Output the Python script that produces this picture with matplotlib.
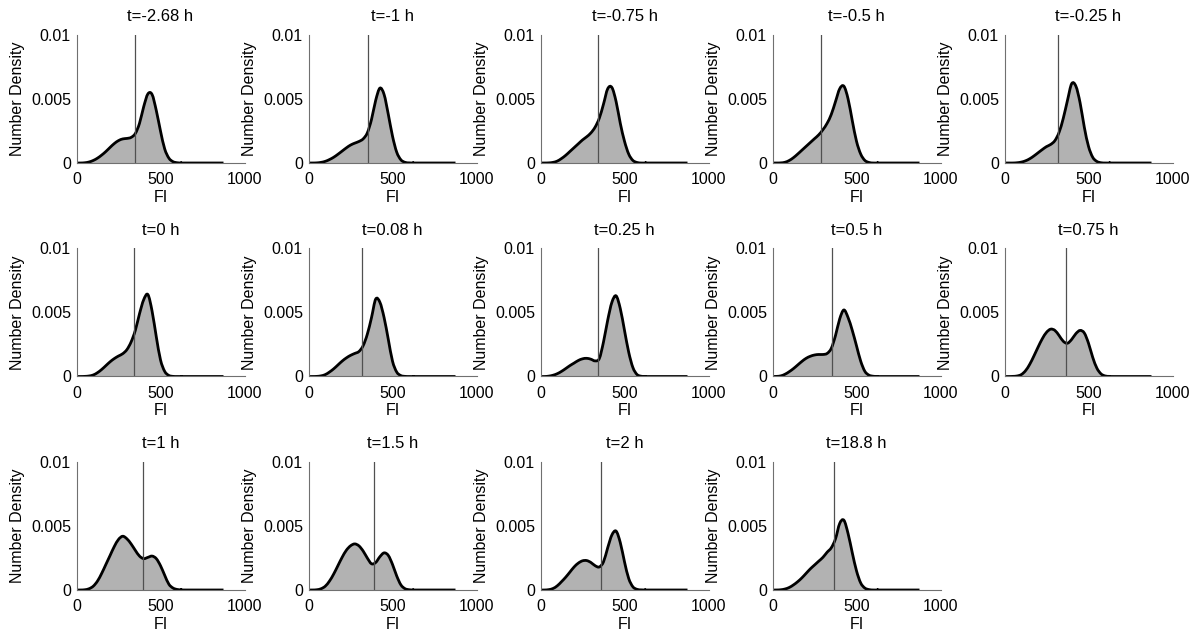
import numpy as np
from matplotlib import pyplot as plt
from matplotlib.path import Path
from matplotlib.patches import PathPatch

plt.rcParams['font.family'] = ['Liberation Sans', 'DejaVu Sans']

# time points of each panel
titles = ["t=-2.68 h", "t=-1 h", "t=-0.75 h", "t=-0.5 h", "t=-0.25 h",
          "t=0 h", "t=0.08 h", "t=0.25 h", "t=0.5 h", "t=0.75 h",
          "t=1 h", "t=1.5 h", "t=2 h", "t=18.8 h"]

# FI grid where the densities were read (every 25 units), density is 0 beyond
fi = np.arange(0, 675, 25)
fi_end = 875

# number density, in units of 1e-3
d_m268 = [0, 0, 0.02, 0.08, 0.2, 0.38, 0.62, 0.9, 1.22, 1.52, 1.75, 1.88, 1.92, 2.0,
          2.3, 3.1, 4.4, 5.4, 5.35, 4.1, 2.5, 1.1, 0.38, 0.1, 0.02, 0, 0]
d_m1 = [0, 0, 0.01, 0.05, 0.13, 0.27, 0.45, 0.68, 0.93, 1.18, 1.4, 1.55, 1.68, 1.88,
        2.35, 3.4, 4.9, 5.85, 5.35, 3.8, 2.1, 0.85, 0.25, 0.05, 0.01, 0, 0]
d_m075 = [0, 0, 0.01, 0.05, 0.15, 0.35, 0.6, 0.9, 1.2, 1.5, 1.8, 2.05, 2.35, 2.8,
          3.5, 4.6, 5.8, 5.9, 4.8, 3.1, 1.7, 0.7, 0.2, 0.04, 0, 0, 0]
d_m05 = [0, 0, 0.01, 0.06, 0.2, 0.42, 0.7, 1.0, 1.3, 1.6, 1.9, 2.2, 2.6, 3.1,
         3.8, 4.8, 5.8, 6.0, 5.0, 3.3, 1.7, 0.7, 0.2, 0.04, 0, 0, 0]
d_m025 = [0, 0, 0, 0.02, 0.07, 0.17, 0.33, 0.55, 0.8, 1.05, 1.28, 1.45, 1.75, 2.4,
          3.5, 4.9, 6.2, 6.0, 4.7, 2.8, 1.3, 0.45, 0.12, 0.02, 0, 0, 0]
d_0 = [0, 0, 0.01, 0.04, 0.12, 0.3, 0.55, 0.85, 1.15, 1.4, 1.6, 1.78, 2.1, 2.7,
       3.6, 4.9, 6.0, 6.4, 5.1, 3.1, 1.3, 0.4, 0.08, 0.01, 0, 0, 0]
d_008 = [0, 0, 0.01, 0.05, 0.15, 0.35, 0.6, 0.9, 1.2, 1.45, 1.65, 1.8, 1.95, 2.4,
         3.3, 4.6, 6.05, 5.8, 4.6, 2.9, 1.2, 0.35, 0.07, 0.01, 0, 0, 0]
d_025 = [0, 0, 0.03, 0.1, 0.22, 0.4, 0.62, 0.85, 1.05, 1.25, 1.38, 1.42, 1.35, 1.22,
         1.4, 2.7, 4.4, 5.8, 6.3, 5.3, 3.6, 1.9, 0.7, 0.15, 0.02, 0, 0]
d_05 = [0, 0.01, 0.05, 0.18, 0.38, 0.62, 0.9, 1.18, 1.42, 1.58, 1.68, 1.72, 1.72, 1.8,
        2.2, 3.2, 4.5, 5.2, 4.6, 3.6, 2.4, 1.2, 0.4, 0.1, 0.02, 0, 0]
d_075 = [0, 0, 0.01, 0.04, 0.15, 0.45, 0.95, 1.6, 2.3, 2.95, 3.45, 3.7, 3.6, 3.2,
         2.75, 2.6, 2.9, 3.35, 3.6, 3.4, 2.6, 1.5, 0.65, 0.2, 0.04, 0.01, 0]
d_1 = [0, 0, 0.02, 0.1, 0.3, 0.7, 1.3, 2.0, 2.7, 3.4, 3.95, 4.2, 4.0, 3.6,
       3.1, 2.65, 2.45, 2.55, 2.65, 2.45, 1.9, 1.15, 0.45, 0.15, 0.04, 0.01, 0]
d_15 = [0, 0, 0.02, 0.1, 0.3, 0.7, 1.25, 1.9, 2.55, 3.1, 3.45, 3.6, 3.45, 3.05,
        2.5, 2.05, 2.15, 2.6, 2.9, 2.7, 2.0, 1.1, 0.4, 0.1, 0.02, 0, 0]
d_2 = [0, 0, 0.03, 0.12, 0.33, 0.65, 1.0, 1.4, 1.8, 2.1, 2.28, 2.3, 2.15, 1.9,
       1.8, 2.2, 3.3, 4.3, 4.6, 3.7, 2.2, 0.9, 0.25, 0.05, 0.01, 0, 0]
d_188 = [0, 0, 0.02, 0.08, 0.2, 0.4, 0.65, 0.95, 1.3, 1.65, 1.95, 2.25, 2.55, 2.95,
         3.3, 4.0, 5.2, 5.45, 4.4, 2.9, 1.5, 0.55, 0.15, 0.03, 0, 0, 0]

densities = [d_m268, d_m1, d_m075, d_m05, d_m025, d_0, d_008, d_025, d_05,
             d_075, d_1, d_15, d_2, d_188]

# threshold FI (vertical line) in each panel
thresholds = [348, 353, 345, 288, 321, 341, 318, 341, 353, 368, 393, 387, 363, 369]


def smooth_path(x, y, close=False):
    # draw a smooth (catmull-rom style) curve through the read points
    pts = np.column_stack([x, y])
    n = len(pts)
    verts = [pts[0]]
    codes = [Path.MOVETO]
    for k in range(n - 1):
        p0 = pts[max(k - 1, 0)]
        p1 = pts[k]
        p2 = pts[k + 1]
        p3 = pts[min(k + 2, n - 1)]
        verts += [p1 + (p2 - p0) / 6.0, p2 - (p3 - p1) / 6.0, p2]
        codes += [Path.CURVE4] * 3
    if close:
        verts += [(x[-1], 0), (x[0], 0), (x[0], 0)]
        codes += [Path.LINETO, Path.LINETO, Path.CLOSEPOLY]
    return Path(verts, codes)


fig = plt.figure(figsize=(12, 6.36), dpi=100)
W, H = 1200.0, 636.0

for i in range(len(titles)):
    row, col = i // 5, i % 5
    left = 76.5 + 232 * col
    bottom = 163 + 213.5 * row
    ax = fig.add_axes([left / W, 1 - bottom / H, 168 / W, 128 / H])

    x = np.append(fi, fi_end)
    y = np.append(np.array(densities[i]) * 1e-3, 0)
    ax.add_patch(PathPatch(smooth_path(x, y, close=True), facecolor="#b2b2b2",
                           edgecolor="none"))
    ax.add_patch(PathPatch(smooth_path(x, y), facecolor="none", edgecolor="black",
                           linewidth=2.0, capstyle="butt", joinstyle="round"))
    ax.plot([thresholds[i], thresholds[i]], [0, 0.01], color="#505050", linewidth=0.9)

    ax.set_xlim(0, 1000)
    ax.set_ylim(0, 0.01)
    ax.set_xticks([0, 500, 1000])
    ax.set_yticks([0, 0.005, 0.01])
    ax.set_yticklabels(["0", "0.005", "0.01"])
    ax.spines["top"].set_visible(False)
    ax.spines["right"].set_visible(False)
    for s in ["left", "bottom"]:
        ax.spines[s].set_color("#707070")
        ax.spines[s].set_linewidth(0.8)
    ax.tick_params(length=0, labelsize=11.5)
    ax.tick_params(axis="x", pad=6.5)
    ax.tick_params(axis="y", pad=4)
    ax.set_title(titles[i], fontsize=12, pad=10)
    ax.set_xlabel("FI", fontsize=11.5, labelpad=2)
    ax.set_ylabel("Number Density", fontsize=11.5, labelpad=4)
    ax.patch.set_alpha(0)

plt.savefig("out.png", dpi=100)
